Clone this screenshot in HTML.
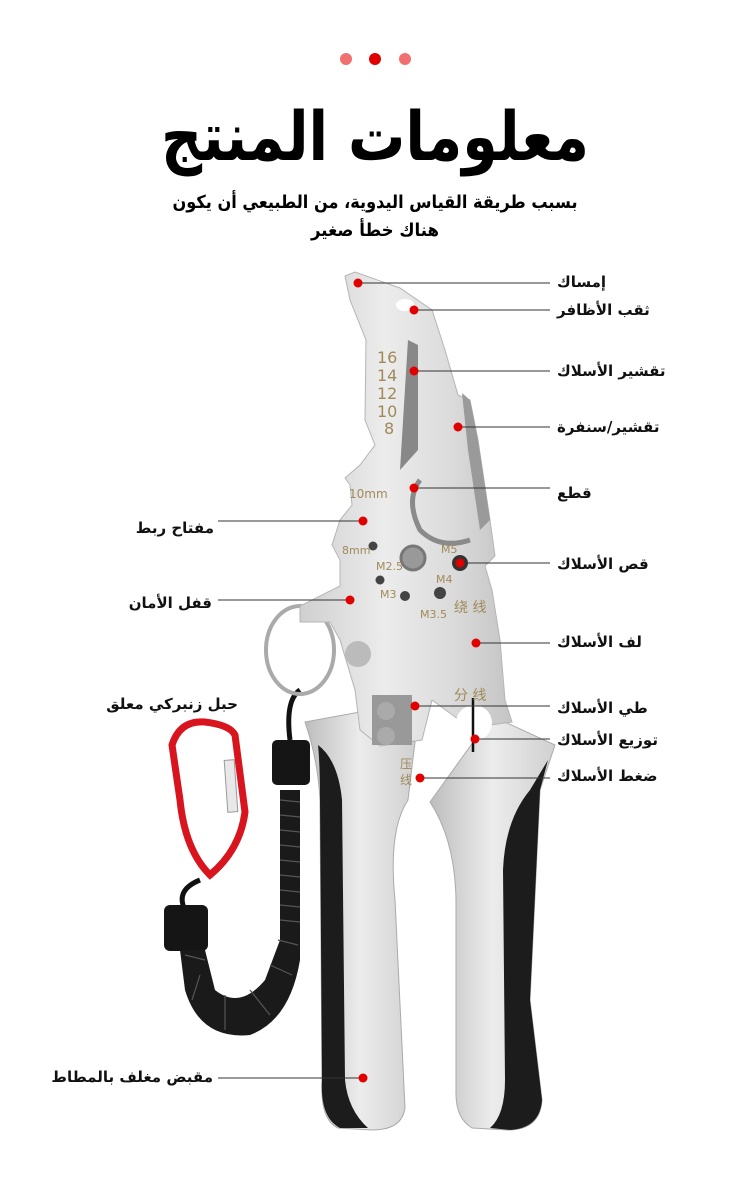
<!DOCTYPE html>
<html><head><meta charset="utf-8"><style>
html,body{margin:0;padding:0;background:#fff;}
svg{display:block;}
text{font-family:"DejaVu Sans","Liberation Sans",sans-serif;}
</style></head><body>
<svg width="750" height="1196" viewBox="0 0 750 1196" xmlns="http://www.w3.org/2000/svg">
<defs>
<linearGradient id="steel" x1="0" y1="0" x2="1" y2="0">
<stop offset="0" stop-color="#cfcfcf"/><stop offset="0.4" stop-color="#ececec"/><stop offset="0.7" stop-color="#dcdcdc"/><stop offset="1" stop-color="#c4c4c4"/>
</linearGradient>
<linearGradient id="grip" x1="0" y1="0" x2="1" y2="0">
<stop offset="0" stop-color="#bdbdbd"/><stop offset="0.5" stop-color="#ececec"/><stop offset="1" stop-color="#d0d0d0"/>
</linearGradient>
</defs>
<rect width="750" height="1196" fill="#fff"/>
<circle cx="346" cy="59" r="6" fill="#f07070"/>
<circle cx="375" cy="59" r="6" fill="#e00000"/>
<circle cx="405" cy="59" r="6" fill="#f07070"/>
<text x="375" y="160" text-anchor="middle" font-size="68" font-weight="bold" textLength="428" lengthAdjust="spacingAndGlyphs">معلومات المنتج</text>
<text x="375" y="208" text-anchor="middle" font-size="18" font-weight="bold" textLength="405" lengthAdjust="spacingAndGlyphs">بسبب طريقة القياس اليدوية، من الطبيعي أن يكون</text>
<text x="375" y="236" text-anchor="middle" font-size="18" font-weight="bold" textLength="128" lengthAdjust="spacingAndGlyphs">هناك خطأ صغير</text>

<!-- lanyard -->
<path d="M235 735 L245 812 Q240 850 210 875 Q185 850 180 800 L172 745 Q180 720 205 722 Q230 725 235 735 Z" fill="none" stroke="#d8141e" stroke-width="7"/>
<rect x="226" y="760" width="10" height="52" fill="#e8e8e8" stroke="#999" transform="rotate(-4 231 786)"/>
<path d="M200 880 Q175 890 185 910" fill="none" stroke="#111" stroke-width="5"/>
<rect x="164" y="905" width="44" height="46" rx="6" fill="#151515"/>
<rect x="272" y="740" width="38" height="45" rx="5" fill="#151515"/>
<path d="M290 740 Q285 700 300 690" fill="none" stroke="#111" stroke-width="5"/>
<path d="M280 790 L300 790 L300 960 Q290 1020 250 1035 Q200 1040 185 990 L180 950 L205 950 L215 990 Q240 1010 265 980 L280 940 Z" fill="#1a1a1a"/>
<g stroke="#555" stroke-width="1.2">
<line x1="280" y1="800" x2="300" y2="802"/><line x1="280" y1="815" x2="300" y2="817"/><line x1="280" y1="830" x2="300" y2="832"/><line x1="280" y1="845" x2="300" y2="847"/><line x1="280" y1="860" x2="300" y2="862"/><line x1="280" y1="875" x2="300" y2="877"/><line x1="280" y1="890" x2="300" y2="892"/><line x1="280" y1="905" x2="300" y2="907"/><line x1="280" y1="920" x2="300" y2="922"/><line x1="278" y1="940" x2="298" y2="945"/><line x1="270" y1="965" x2="292" y2="975"/><line x1="250" y1="990" x2="270" y2="1015"/><line x1="225" y1="995" x2="225" y2="1030"/><line x1="200" y1="975" x2="192" y2="1000"/><line x1="185" y1="955" x2="205" y2="960"/>
</g>
<ellipse cx="300" cy="650" rx="34" ry="44" fill="none" stroke="#aaa" stroke-width="4"/>

<!-- handles -->
<path d="M305 722 L360 712 L415 742 L408 800 Q388 830 395 900 L405 1108 Q402 1130 372 1130 L338 1128 Q320 1120 322 1080 L320 800 Q318 760 305 722 Z" fill="url(#grip)" stroke="#aaa"/>
<path d="M318 745 Q338 760 342 800 L345 1080 Q348 1110 368 1128 L340 1128 Q320 1118 322 1080 L320 800 Q320 765 318 745 Z" fill="#1c1c1c"/>
<path d="M430 802 L492 716 L555 745 L540 790 L530 1000 L542 1100 Q540 1130 508 1130 L472 1128 Q455 1118 456 1090 L456 900 Q455 840 430 802 Z" fill="url(#grip)" stroke="#aaa"/>
<path d="M548 760 L530 790 Q505 820 503 870 L505 1080 Q505 1115 490 1128 L510 1130 Q540 1128 542 1100 L530 1000 L540 790 Z" fill="#1c1c1c"/>

<!-- head -->
<path d="M345 276 L355 272 L400 288 L432 310 L445 350 L458 395 L470 400 L478 440 L490 520 L495 556 L485 566 L492 590 L500 640 L505 700 L512 722 L470 728 L432 700 L422 740 L380 746 L360 730 L355 690 L340 640 L330 622 L300 622 L300 606 L340 586 L340 560 L332 545 L340 520 L352 505 L350 485 L345 478 L360 465 L375 445 L365 420 L366 340 L350 300 Z" fill="url(#steel)" stroke="#b5b5b5"/>
<path d="M408 340 L418 345 L418 450 L400 470 Z" fill="#888"/>
<path d="M462 393 L470 400 L478 440 L490 520 L480 530 L468 450 Z" fill="#9a9a9a"/>
<path d="M420 480 Q405 500 420 530 Q440 550 470 540" fill="none" stroke="#8a8a8a" stroke-width="5"/>
<ellipse cx="405" cy="305" rx="9" ry="6" fill="#fff"/>
<circle cx="413" cy="558" r="12" fill="#999" stroke="#777" stroke-width="3"/>
<circle cx="373" cy="546" r="4.5" fill="#444"/><circle cx="380" cy="580" r="4.5" fill="#444"/><circle cx="405" cy="596" r="5" fill="#444"/><circle cx="440" cy="593" r="6" fill="#444"/><circle cx="460" cy="563" r="8" fill="#333"/>
<circle cx="358" cy="654" r="13" fill="#bbb"/>
<rect x="372" y="695" width="40" height="50" fill="#999"/>
<circle cx="386" cy="711" r="9" fill="#aaa"/><circle cx="386" cy="736" r="9" fill="#aaa"/>
<circle cx="474" cy="723" r="18" fill="#fff"/>
<line x1="473" y1="698" x2="473" y2="752" stroke="#111" stroke-width="2.5"/>
<g fill="#a08a5a" font-family="Liberation Sans,sans-serif" font-size="16">
<text x="377" y="363">16</text><text x="377" y="381">14</text><text x="377" y="399">12</text><text x="377" y="417">10</text><text x="384" y="434">8</text>
<text x="349" y="498" font-size="12">10mm</text><text x="342" y="554" font-size="11">8mm</text>
<text x="441" y="553" font-size="11">M5</text><text x="376" y="570" font-size="11">M2.5</text><text x="436" y="583" font-size="11">M4</text><text x="380" y="598" font-size="11">M3</text><text x="420" y="618" font-size="11">M3.5</text>
<text x="454" y="612" font-family="Noto Sans CJK SC,sans-serif" font-size="14">绕 线</text>
<text x="454" y="700" font-family="Noto Sans CJK SC,sans-serif" font-size="14">分 线</text>
<text x="400" y="768" font-family="Noto Sans CJK SC,sans-serif" font-size="12">压</text>
<text x="400" y="784" font-family="Noto Sans CJK SC,sans-serif" font-size="12">线</text>
</g>

<!-- leader lines -->
<g stroke="#333" stroke-width="1">
<line x1="358" y1="283" x2="550" y2="283"/><line x1="414" y1="310" x2="550" y2="310"/><line x1="414" y1="371" x2="550" y2="371"/><line x1="458" y1="427" x2="550" y2="427"/><line x1="414" y1="488" x2="550" y2="488"/><line x1="460" y1="563" x2="550" y2="563"/><line x1="476" y1="643" x2="550" y2="643"/><line x1="415" y1="706" x2="550" y2="706"/><line x1="475" y1="739" x2="550" y2="739"/><line x1="420" y1="778" x2="550" y2="778"/>
<line x1="218" y1="521" x2="363" y2="521"/><line x1="218" y1="600" x2="350" y2="600"/><line x1="218" y1="1078" x2="363" y2="1078"/>
</g>
<g fill="#e00000">
<circle cx="358" cy="283" r="4.5"/><circle cx="414" cy="310" r="4.5"/><circle cx="414" cy="371" r="4.5"/><circle cx="458" cy="427" r="4.5"/><circle cx="414" cy="488" r="4.5"/><circle cx="460" cy="563" r="4.5"/><circle cx="476" cy="643" r="4.5"/><circle cx="415" cy="706" r="4.5"/><circle cx="475" cy="739" r="4.5"/><circle cx="420" cy="778" r="4.5"/><circle cx="363" cy="521" r="4.5"/><circle cx="350" cy="600" r="4.5"/><circle cx="363" cy="1078" r="4.5"/>
</g>
<g font-size="15" font-weight="bold" fill="#111">
<text x="557" y="287" text-anchor="start">إمساك</text>
<text x="557" y="315" text-anchor="start">ثقب الأظافر</text>
<text x="557" y="376" text-anchor="start">تقشير الأسلاك</text>
<text x="557" y="432" text-anchor="start">تقشير/سنفرة</text>
<text x="557" y="498" text-anchor="start">قطع</text>
<text x="557" y="569" text-anchor="start">قص الأسلاك</text>
<text x="557" y="647" text-anchor="start">لف الأسلاك</text>
<text x="557" y="713" text-anchor="start">طي الأسلاك</text>
<text x="557" y="745" text-anchor="start">توزيع الأسلاك</text>
<text x="557" y="781" text-anchor="start">ضغط الأسلاك</text>
<text x="214" y="533" text-anchor="end">مفتاح ربط</text>
<text x="212" y="608" text-anchor="end">قفل الأمان</text>
<text x="238" y="709" text-anchor="end">حبل زنبركي معلق</text>
<text x="213" y="1082" text-anchor="end">مقبض مغلف بالمطاط</text>
</g>
</svg>
</body></html>
